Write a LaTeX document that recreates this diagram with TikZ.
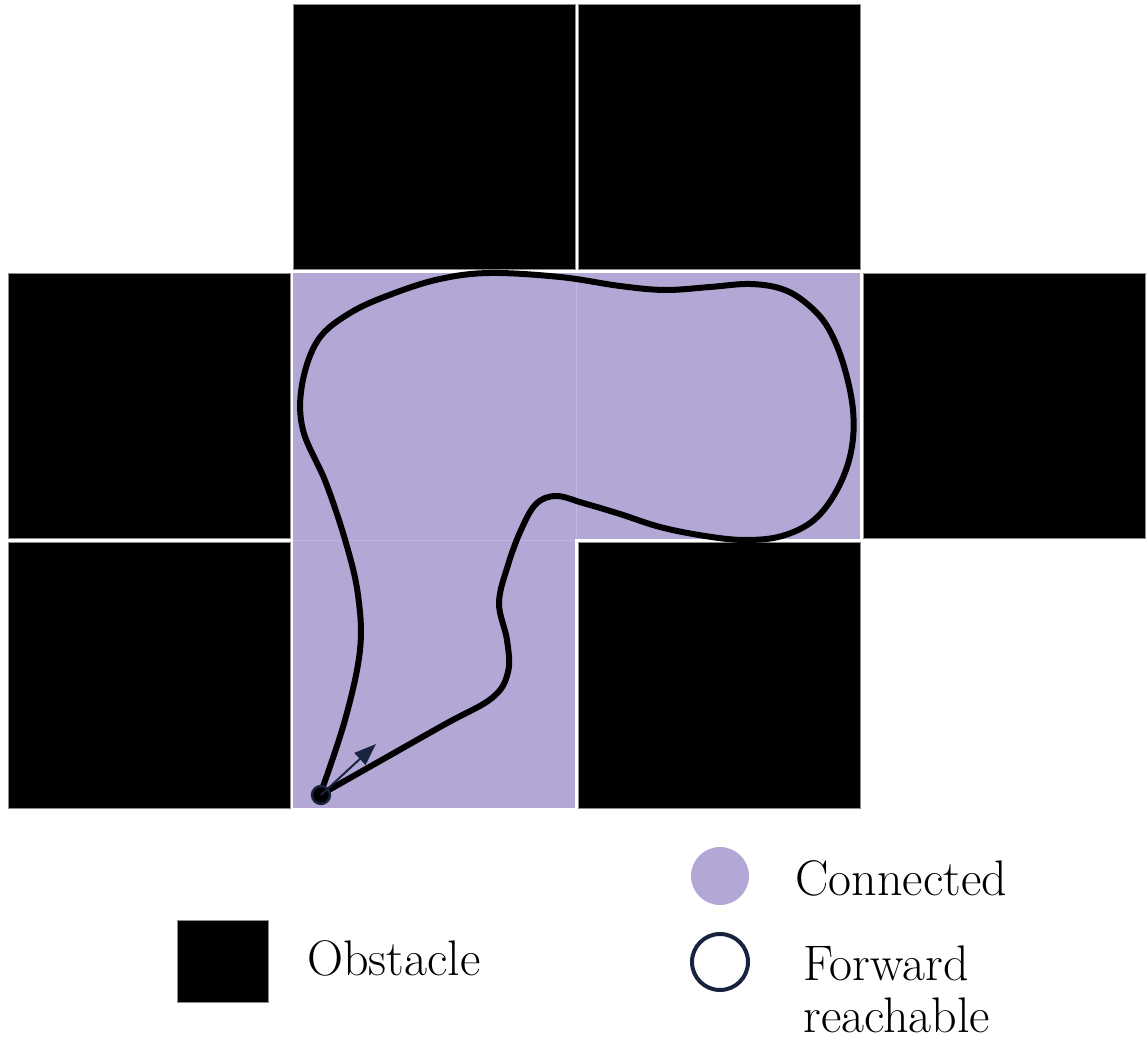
\documentclass[tikz,border=0pt]{standalone}
\usetikzlibrary{arrows.meta}
\definecolor{conn}{HTML}{B3A7D6}
\definecolor{connline}{HTML}{BFB5DE}
\definecolor{navy}{HTML}{17233F}
\begin{document}
\begin{tikzpicture}[x=0.5pt,y=-0.5pt,
  obst/.style={fill=black, draw=black!45, line width=0.4pt},
  traj/.style={line width=3pt, line cap=round, line join=round},
  lab/.style={font=\fontsize{25}{26}\selectfont, inner sep=0pt}]
\useasboundingbox (0,0) rectangle (1146,1042);
% connected cells
\fill[conn] (293,273) rectangle (860,539);
\fill[conn] (293,539) rectangle (575,808);
\draw[connline, line width=0.8pt] (576.5,273) -- (576.5,539);
\draw[connline, line width=0.8pt] (293,540.5) -- (575,540.5);
% obstacles
\draw[obst] (293,4) rectangle (575,269);
\draw[obst] (578,4) rectangle (860,269);
\draw[obst] (8,273) rectangle (290,538);
\draw[obst] (863,273) rectangle (1145.5,538);
\draw[obst] (8,542) rectangle (290,808);
\draw[obst] (578,542) rectangle (860,808);
% trajectory
\draw[traj] plot[smooth, tension=0.6] coordinates {
 (320,795) (345,720) (360,650) (358,595) (346,543) (326,483)
 (303,430) (302,385) (318,340) (350,313) (392,294) (440,279) (490,273)
 (560,277) (620,286) (665,290) (710,287) (750,284) (782,289) (806,303) (827,326)
 (843,363) (853,410) (851,452) (837,490) (814,520) (782,536) (745,540)
 (705,536) (660,527) (620,514) (583,503) (556,496) (536,504) (521,530)
 (508,565) (499,603) (507,640) (508,672) (492,698) (440,727)
 (320,795)};
% start point and heading
\node[circle, fill=black, draw=navy, line width=1.2pt, minimum size=9pt, inner sep=0pt] (start) at (321,795) {};
\coordinate (head) at (376,744);
\draw[navy, line width=1pt, -{Triangle[length=11pt,width=8pt]}] (start.center) -- (head);
% legend
\node[circle, fill=conn, minimum size=29pt, inner sep=0pt] (legconn) at (720,876) {};
\node[lab, anchor=base west] (legconntxt) at (795,895) {Connected};
\node[circle, draw=navy, line width=2pt, minimum size=28pt, inner sep=0pt] (legfwd) at (720,962) {};
\node[lab, anchor=north west, align=left] (legfwdtxt) at (803,945) {Forward\\reachable};
\node[obst, minimum width=45.5pt, minimum height=41pt, inner sep=0pt] (legobst) at (222.5,961) {};
\node[lab, anchor=base west] (legobsttxt) at (307,975) {Obstacle};
\end{tikzpicture}
\end{document}
